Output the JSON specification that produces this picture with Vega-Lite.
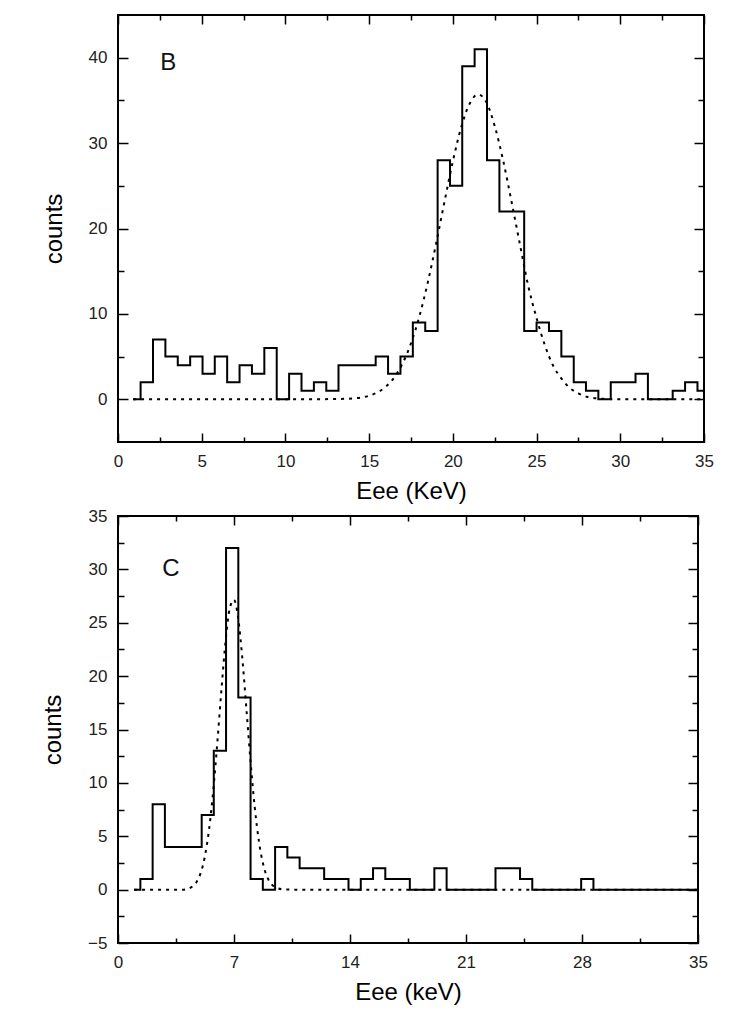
{
  "$schema": "https://vega.github.io/schema/vega-lite/v6.json",
  "padding": {"left": 40, "top": 13, "right": 10, "bottom": 5},
  "background": "#ffffff",
  "spacing": 74,
  "bounds": "flush",
  "config": {
    "view": {"stroke": "#000", "strokeWidth": 2},
    "font": "Liberation Sans",
    "axis": {
      "domain": false, "grid": false, "tickColor": "#000", "tickWidth": 1.5,
      "labelFont": "Liberation Sans", "labelFontSize": 17, "labelColor": "#222",
      "labelFlush": false, "labelOverlap": false,
      "titleFont": "Liberation Sans", "titleFontSize": 24, "titleFontWeight": "normal", "titleColor": "#000"
    }
  },
  "datasets": {
    "histB": [
      {"e": 0.9, "counts": 0}, {"e": 1.35, "counts": 2}, {"e": 2.09, "counts": 7}, {"e": 2.83, "counts": 5},
      {"e": 3.57, "counts": 4}, {"e": 4.31, "counts": 5}, {"e": 5.05, "counts": 3}, {"e": 5.78, "counts": 5},
      {"e": 6.52, "counts": 2}, {"e": 7.26, "counts": 4}, {"e": 8.0, "counts": 3}, {"e": 8.74, "counts": 6},
      {"e": 9.48, "counts": 0}, {"e": 10.22, "counts": 3}, {"e": 10.96, "counts": 1}, {"e": 11.7, "counts": 2},
      {"e": 12.44, "counts": 1}, {"e": 13.17, "counts": 4}, {"e": 13.91, "counts": 4}, {"e": 14.65, "counts": 4},
      {"e": 15.39, "counts": 5}, {"e": 16.13, "counts": 3}, {"e": 16.87, "counts": 5}, {"e": 17.61, "counts": 9},
      {"e": 18.35, "counts": 8}, {"e": 19.09, "counts": 28}, {"e": 19.83, "counts": 25}, {"e": 20.56, "counts": 39},
      {"e": 21.3, "counts": 41}, {"e": 22.04, "counts": 28}, {"e": 22.78, "counts": 22}, {"e": 23.52, "counts": 22},
      {"e": 24.26, "counts": 8}, {"e": 25.0, "counts": 9}, {"e": 25.74, "counts": 8}, {"e": 26.48, "counts": 5},
      {"e": 27.22, "counts": 2}, {"e": 27.95, "counts": 1}, {"e": 28.69, "counts": 0}, {"e": 29.43, "counts": 2},
      {"e": 30.17, "counts": 2}, {"e": 30.91, "counts": 3}, {"e": 31.65, "counts": 0}, {"e": 32.39, "counts": 0},
      {"e": 33.13, "counts": 1}, {"e": 33.87, "counts": 2}, {"e": 34.61, "counts": 1}, {"e": 35.0, "counts": 1}
    ],
    "fitB": [
      {"e": 0.9, "counts": 0}, {"e": 5, "counts": 0}, {"e": 10, "counts": 0}, {"e": 13, "counts": 0.03},
      {"e": 14, "counts": 0.1}, {"e": 15, "counts": 0.42}, {"e": 15.5, "counts": 0.81}, {"e": 16, "counts": 1.48},
      {"e": 16.5, "counts": 2.56}, {"e": 17, "counts": 4.21}, {"e": 17.5, "counts": 6.56}, {"e": 18, "counts": 9.71},
      {"e": 18.5, "counts": 13.66}, {"e": 19, "counts": 18.24}, {"e": 19.5, "counts": 23.13}, {"e": 20, "counts": 27.86},
      {"e": 20.5, "counts": 31.86}, {"e": 21, "counts": 34.6}, {"e": 21.5, "counts": 35.69}, {"e": 22, "counts": 34.8},
      {"e": 22.5, "counts": 32.0}, {"e": 23, "counts": 28.0}, {"e": 23.5, "counts": 23.2}, {"e": 24, "counts": 18.2},
      {"e": 24.5, "counts": 13.3}, {"e": 25, "counts": 9.5}, {"e": 25.5, "counts": 6.3}, {"e": 26, "counts": 3.9},
      {"e": 26.5, "counts": 2.4}, {"e": 27, "counts": 1.3}, {"e": 27.5, "counts": 0.7}, {"e": 28, "counts": 0.3},
      {"e": 29, "counts": 0.05}, {"e": 30, "counts": 0}, {"e": 35, "counts": 0}
    ],
    "histC": [
      {"e": 0.97, "counts": 0}, {"e": 1.35, "counts": 1}, {"e": 2.09, "counts": 8}, {"e": 2.83, "counts": 4},
      {"e": 3.57, "counts": 4}, {"e": 4.31, "counts": 4}, {"e": 5.05, "counts": 7}, {"e": 5.78, "counts": 13},
      {"e": 6.52, "counts": 32}, {"e": 7.26, "counts": 18}, {"e": 8.0, "counts": 1}, {"e": 8.74, "counts": 0},
      {"e": 9.48, "counts": 4}, {"e": 10.22, "counts": 3}, {"e": 10.96, "counts": 2}, {"e": 11.7, "counts": 2},
      {"e": 12.44, "counts": 1}, {"e": 13.17, "counts": 1}, {"e": 13.91, "counts": 0}, {"e": 14.65, "counts": 1},
      {"e": 15.39, "counts": 2}, {"e": 16.13, "counts": 1}, {"e": 16.87, "counts": 1}, {"e": 17.61, "counts": 0},
      {"e": 18.35, "counts": 0}, {"e": 19.09, "counts": 2}, {"e": 19.83, "counts": 0}, {"e": 20.56, "counts": 0},
      {"e": 21.3, "counts": 0}, {"e": 22.04, "counts": 0}, {"e": 22.78, "counts": 2}, {"e": 23.52, "counts": 2},
      {"e": 24.26, "counts": 1}, {"e": 25.0, "counts": 0}, {"e": 25.74, "counts": 0}, {"e": 26.48, "counts": 0},
      {"e": 27.22, "counts": 0}, {"e": 27.95, "counts": 1}, {"e": 28.69, "counts": 0}, {"e": 35.0, "counts": 0}
    ],
    "fitC": [
      {"e": 0.97, "counts": 0}, {"e": 4, "counts": 0}, {"e": 4.5, "counts": 0.31}, {"e": 4.75, "counts": 0.74},
      {"e": 5, "counts": 1.61}, {"e": 5.25, "counts": 3.17}, {"e": 5.5, "counts": 5.7}, {"e": 5.75, "counts": 9.32},
      {"e": 6, "counts": 13.9}, {"e": 6.25, "counts": 18.89}, {"e": 6.5, "counts": 23.4}, {"e": 6.75, "counts": 26.4},
      {"e": 7, "counts": 27.15}, {"e": 7.25, "counts": 25.44}, {"e": 7.5, "counts": 21.72}, {"e": 7.75, "counts": 16.9},
      {"e": 8, "counts": 11.98}, {"e": 8.25, "counts": 7.74}, {"e": 8.5, "counts": 4.56}, {"e": 8.75, "counts": 2.44},
      {"e": 9, "counts": 1.19}, {"e": 9.25, "counts": 0.53}, {"e": 9.5, "counts": 0.22}, {"e": 10, "counts": 0.02},
      {"e": 10.5, "counts": 0}, {"e": 35, "counts": 0}
    ]
  },
  "vconcat": [
    {
      "width": 586, "height": 427,
      "layer": [
        {
          "data": {"name": "histB"},
          "mark": {"type": "line", "interpolate": "step-after", "color": "#000", "strokeWidth": 2, "clip": true},
          "encoding": {
            "x": {"field": "e", "type": "quantitative", "scale": {"domain": [0, 35], "nice": false, "zero": false},
              "axis": {"orient": "bottom", "values": [0, 2.5, 5, 7.5, 10, 12.5, 15, 17.5, 20, 22.5, 25, 27.5, 30, 32.5, 35],
                "tickSize": {"condition": {"test": "datum.value % 5 === 0", "value": -9}, "value": -5},
                "labelExpr": "datum.value % 5 === 0 ? datum.label : ''", "labelPadding": 20,
                "title": "Eee (KeV)", "titlePadding": 6}},
            "y": {"field": "counts", "type": "quantitative", "scale": {"domain": [-5, 45], "nice": false, "zero": false},
              "axis": {"orient": "left", "values": [0, 5, 10, 15, 20, 25, 30, 35, 40],
                "tickSize": {"condition": {"test": "datum.value % 10 === 0", "value": -10}, "value": -6},
                "labelExpr": "datum.value % 10 === 0 ? datum.label : ''", "labelPadding": 21,
                "title": "counts", "titlePadding": 22}}
          }
        },
        {
          "data": {"name": "fitB"},
          "mark": {"type": "line", "interpolate": "monotone", "color": "#000", "strokeWidth": 2, "strokeDash": [3, 5], "clip": true},
          "encoding": {
            "x": {"field": "e", "type": "quantitative",
              "axis": {"orient": "top", "values": [0, 2.5, 5, 7.5, 10, 12.5, 15, 17.5, 20, 22.5, 25, 27.5, 30, 32.5, 35],
                "tickSize": {"condition": {"test": "datum.value % 5 === 0", "value": -9}, "value": -5},
                "labels": false, "title": null}},
            "y": {"field": "counts", "type": "quantitative",
              "axis": {"orient": "right", "values": [0, 5, 10, 15, 20, 25, 30, 35, 40],
                "tickSize": {"condition": {"test": "datum.value % 10 === 0", "value": -10}, "value": -6},
                "labels": false, "title": null}}
          }
        },
        {
          "data": {"values": [{}]},
          "mark": {"type": "text", "fontSize": 24, "font": "Liberation Sans", "color": "#111"},
          "encoding": {
            "x": {"datum": 3.0, "type": "quantitative", "axis": null},
            "y": {"datum": 39.4, "type": "quantitative", "axis": null},
            "text": {"value": "B"}
          }
        }
      ],
      "resolve": {"axis": {"x": "independent", "y": "independent"}}
    },
    {
      "width": 580, "height": 427,
      "layer": [
        {
          "data": {"name": "histC"},
          "mark": {"type": "line", "interpolate": "step-after", "color": "#000", "strokeWidth": 2, "clip": true},
          "encoding": {
            "x": {"field": "e", "type": "quantitative", "scale": {"domain": [0, 35], "nice": false, "zero": false},
              "axis": {"orient": "bottom", "values": [0, 3.5, 7, 10.5, 14, 17.5, 21, 24.5, 28, 31.5, 35],
                "tickSize": {"condition": {"test": "datum.value % 7 === 0", "value": -9}, "value": -5},
                "labelExpr": "datum.value % 7 === 0 ? datum.label : ''", "labelPadding": 20,
                "title": "Eee (keV)", "titlePadding": 6}},
            "y": {"field": "counts", "type": "quantitative", "scale": {"domain": [-5, 35], "nice": false, "zero": false},
              "axis": {"orient": "left", "values": [-5, -2.5, 0, 2.5, 5, 7.5, 10, 12.5, 15, 17.5, 20, 22.5, 25, 27.5, 30, 32.5, 35],
                "tickSize": {"condition": {"test": "datum.value % 5 === 0", "value": -10}, "value": -6},
                "labelExpr": "datum.value % 5 === 0 ? datum.label : ''", "labelPadding": 21,
                "title": "counts", "titlePadding": 22}}
          }
        },
        {
          "data": {"name": "fitC"},
          "mark": {"type": "line", "interpolate": "monotone", "color": "#000", "strokeWidth": 2, "strokeDash": [3, 5], "clip": true},
          "encoding": {
            "x": {"field": "e", "type": "quantitative",
              "axis": {"orient": "top", "values": [0, 3.5, 7, 10.5, 14, 17.5, 21, 24.5, 28, 31.5, 35],
                "tickSize": {"condition": {"test": "datum.value % 7 === 0", "value": -9}, "value": -5},
                "labels": false, "title": null}},
            "y": {"field": "counts", "type": "quantitative",
              "axis": {"orient": "right", "values": [-5, -2.5, 0, 2.5, 5, 7.5, 10, 12.5, 15, 17.5, 20, 22.5, 25, 27.5, 30, 32.5, 35],
                "tickSize": {"condition": {"test": "datum.value % 5 === 0", "value": -10}, "value": -6},
                "labels": false, "title": null}}
          }
        },
        {
          "data": {"values": [{}]},
          "mark": {"type": "text", "fontSize": 24, "font": "Liberation Sans", "color": "#111"},
          "encoding": {
            "x": {"datum": 3.2, "type": "quantitative", "axis": null},
            "y": {"datum": 30.0, "type": "quantitative", "axis": null},
            "text": {"value": "C"}
          }
        }
      ],
      "resolve": {"axis": {"x": "independent", "y": "independent"}}
    }
  ]
}
